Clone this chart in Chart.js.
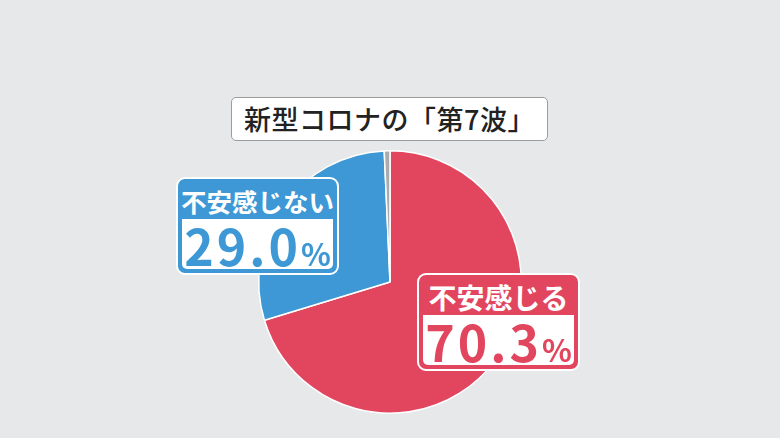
<!DOCTYPE html>
<html lang="ja">
<head>
<meta charset="utf-8">
<script src="https://cdn.jsdelivr.net/npm/chart.js@4.4.1/dist/chart.umd.min.js"></script>
<style>
  html, body { margin: 0; padding: 0; background: #e6e8ea; }
  #wrap { position: relative; width: 780px; height: 438px; overflow: hidden; font-family: "Noto Sans CJK JP", "Noto Sans", sans-serif; }
  #myChart { position: absolute; left: 0; top: 0; }
  .title {
    position: absolute; left: 231px; top: 97px; width: 315px; height: 42px;
    background: #fff; border: 1.5px solid #9a9c9e; border-radius: 5px;
    font-size: 27px; font-weight: 500; color: #222; text-align: center; line-height: 42px;
    letter-spacing: 0.5px;
  }
  .label {
    position: absolute; width: 163px; height: 98px; border: 2px solid #fff; border-radius: 9px;
    box-sizing: border-box;
  }
  .label .head { color: #fff; font-weight: 700; text-align: center; height: 44px; line-height: 44px; white-space: nowrap; }
  .label .val {
    position: absolute; left: 4px; right: 4px; bottom: 4px; height: 50px;
    background: #fff; border-radius: 0 0 5px 5px;
    font-size: 50px; font-weight: 600; text-align: center; line-height: 50px; letter-spacing: 3px;
  }
  .label .val small { font-size: 31px; letter-spacing: 0; }
</style>
</head>
<body>
<div id="wrap">
  <canvas id="myChart" width="780" height="438"></canvas>
  <div class="title" id="title"></div>
  <div class="label" id="lab1" style="left:176px; top:177px;"><div class="head" style="font-size:25.5px;"></div><div class="val"></div></div>
  <div class="label" id="lab0" style="left:417px; top:273px;"><div class="head" style="font-size:28px;"></div><div class="val"></div></div>
</div>
<script>
const title = '新型コロナの「第7波」';
const categories = ['不安感じる', '不安感じない', 'その他'];
const values = [70.3, 29.0, 0.7];
const colors = ['#e2465f', '#3d98d5', '#a9acae'];

document.getElementById('title').textContent = title;

// label boxes for the two main slices
[0, 1].forEach(i => {
  const box = document.getElementById('lab' + i);
  box.style.background = colors[i];
  box.querySelector('.head').textContent = categories[i];
  const val = box.querySelector('.val');
  val.style.color = colors[i];
  val.innerHTML = values[i].toFixed(1) + '<small>%</small>';
});

const ctx = document.getElementById('myChart').getContext('2d');
new Chart(ctx, {
  type: 'pie',
  data: {
    labels: categories,
    datasets: [{
      data: values,
      backgroundColor: colors,
      borderColor: '#ffffff',
      borderWidth: 1.5
    }]
  },
  options: {
    responsive: false,
    animation: false,
    layout: { padding: { top: 150, bottom: 24 } },
    plugins: {
      legend: { display: false },
      tooltip: { enabled: false }
    }
  }
});
</script>
</body>
</html>
